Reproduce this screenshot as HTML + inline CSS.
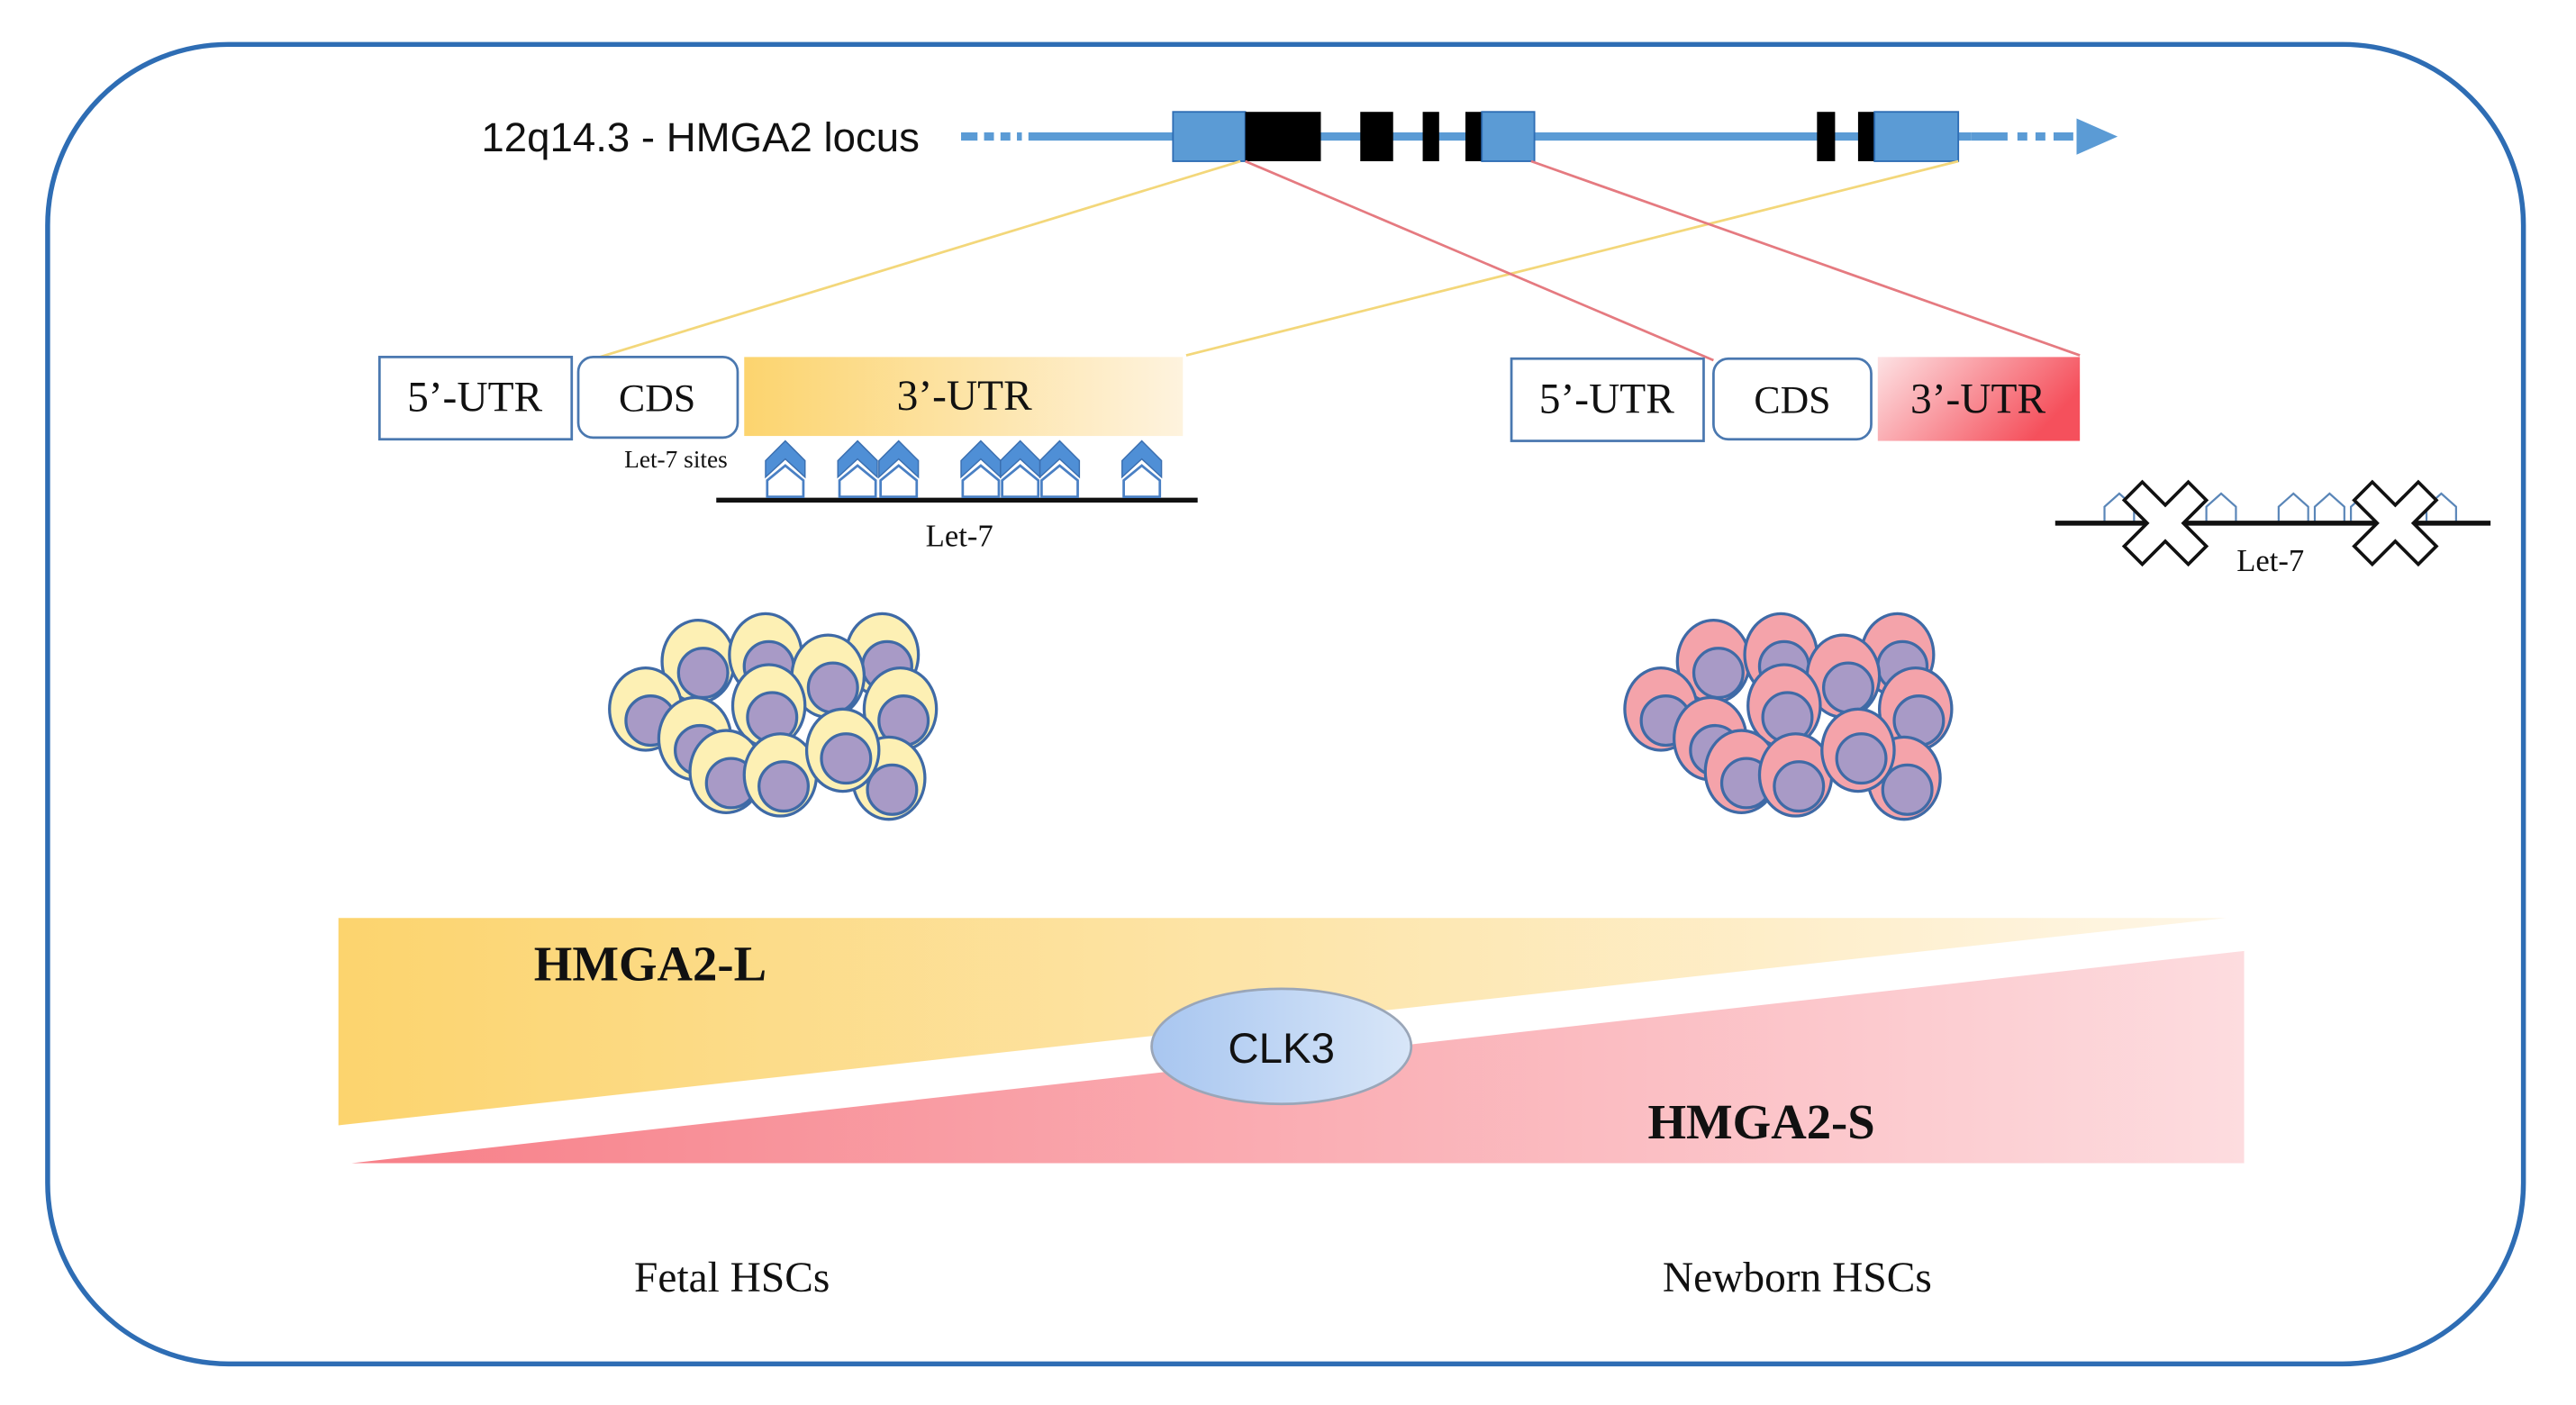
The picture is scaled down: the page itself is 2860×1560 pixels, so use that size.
<!DOCTYPE html>
<html><head><meta charset="utf-8"><style>html,body{margin:0;padding:0;background:#fff}svg{display:block}</style></head>
<body>
<svg width="2860" height="1560" viewBox="0 0 1568 854" preserveAspectRatio="none" xmlns="http://www.w3.org/2000/svg">
<defs>
<linearGradient id="gy" x1="0" x2="1" y1="0" y2="0"><stop offset="0" stop-color="#fcd46e"/><stop offset="1" stop-color="#fef3de"/></linearGradient>
<linearGradient id="gp" x1="0" x2="1" y1="0" y2="0.4"><stop offset="0" stop-color="#fde2e4"/><stop offset="1" stop-color="#f5505c"/></linearGradient>
<linearGradient id="tY" x1="0" x2="1" y1="0" y2="0"><stop offset="0" stop-color="#fcd46e"/><stop offset="1" stop-color="#fef6e6"/></linearGradient>
<linearGradient id="tR" x1="0" x2="1" y1="0" y2="0"><stop offset="0" stop-color="#f77f88"/><stop offset="1" stop-color="#fddcdf"/></linearGradient>
<linearGradient id="cb" x1="0" x2="1" y1="0" y2="0"><stop offset="0" stop-color="#a8c6f0"/><stop offset="1" stop-color="#d8e6f8"/></linearGradient>
<g id="site"><polygon points="-12,280 0,268 12,280 12,290 0,279 -12,290" fill="#4f8fd6" stroke="#3b6fb0" stroke-width="0.8"/><polygon points="-11,302 -11,292 0,283 11,292 11,302" fill="#fff" stroke="#4a80c4" stroke-width="1.5"/></g>
<g id="hs"><polygon points="-9,318 -9,308 0,300 9,308 9,318" fill="#fff" stroke="#5a86b8" stroke-width="1.2"/></g>
<g id="xx"><polygon points="-14,-25 0,-11 14,-25 25,-14 11,0 25,14 14,25 0,11 -14,25 -25,14 -11,0 -25,-14" fill="#fff" stroke="#111" stroke-width="2"/></g>
</defs>
<rect x="29" y="27" width="1507" height="802" rx="110" ry="110" fill="#fff" stroke="#2e6db4" stroke-width="3"/>
<text x="293" y="92" font-family="Liberation Sans, sans-serif" font-size="25" fill="#111">12q14.3 - HMGA2 locus</text>
<line x1="585" y1="83" x2="622" y2="83" stroke="#5b9bd5" stroke-width="5" stroke-dasharray="10,4,6,4,6,4"/>
<line x1="626" y1="83" x2="1200" y2="83" stroke="#5b9bd5" stroke-width="5"/>
<line x1="1200" y1="83" x2="1262" y2="83" stroke="#5b9bd5" stroke-width="5" stroke-dasharray="22,6,6,5,6,5"/>
<polygon points="1264,72 1289,83 1264,94" fill="#5b9bd5"/>
<rect x="714" y="68" width="44" height="30" fill="#5b9bd5" stroke="#2e6db4" stroke-width="1"/>
<rect x="758" y="68" width="46" height="30" fill="#000"/>
<rect x="828" y="68" width="20" height="30" fill="#000"/>
<rect x="866" y="68" width="10" height="30" fill="#000"/>
<rect x="892" y="68" width="10" height="30" fill="#000"/>
<rect x="902" y="68" width="32" height="30" fill="#5b9bd5" stroke="#2e6db4" stroke-width="1"/>
<rect x="1106" y="68" width="11" height="30" fill="#000"/>
<rect x="1131" y="68" width="10" height="30" fill="#000"/>
<rect x="1141" y="68" width="51" height="30" fill="#5b9bd5" stroke="#2e6db4" stroke-width="1"/>
<line x1="755" y1="98" x2="365" y2="217" stroke="#f3d77a" stroke-width="1.5"/>
<line x1="1192" y1="98" x2="722" y2="216" stroke="#f3d77a" stroke-width="1.5"/>
<line x1="758" y1="98" x2="1043" y2="219" stroke="#e57a80" stroke-width="1.5"/>
<line x1="932" y1="98" x2="1266" y2="216" stroke="#e57a80" stroke-width="1.5"/>
<g font-family="Liberation Serif, serif" fill="#111">
<rect x="231" y="217" width="117" height="50" fill="#fff" stroke="#4a78b0" stroke-width="1.5"/>
<text x="289" y="250" font-size="26" text-anchor="middle">5’-UTR</text>
<rect x="352" y="217" width="97" height="49" rx="9" fill="#fff" stroke="#4a78b0" stroke-width="1.5"/>
<text x="400" y="250" font-size="24" text-anchor="middle">CDS</text>
<rect x="453" y="217" width="267" height="48" fill="url(#gy)"/>
<text x="587" y="249" font-size="26" text-anchor="middle">3’-UTR</text>
<text x="380" y="284" font-size="15">Let-7 sites</text>
<line x1="436" y1="304" x2="729" y2="304" stroke="#111" stroke-width="3"/>
<text x="584" y="332" font-size="19" text-anchor="middle">Let-7</text>
<rect x="920" y="218" width="117" height="50" fill="#fff" stroke="#4a78b0" stroke-width="1.5"/>
<text x="978" y="251" font-size="26" text-anchor="middle">5’-UTR</text>
<rect x="1043" y="218" width="96" height="49" rx="9" fill="#fff" stroke="#4a78b0" stroke-width="1.5"/>
<text x="1091" y="251" font-size="24" text-anchor="middle">CDS</text>
<rect x="1143" y="217" width="123" height="51" fill="url(#gp)"/>
<text x="1204" y="251" font-size="26" text-anchor="middle">3’-UTR</text>
<text x="1382" y="347" font-size="19" text-anchor="middle">Let-7</text>
<text x="386" y="785" font-size="26">Fetal HSCs</text>
<text x="1012" y="785" font-size="26">Newborn HSCs</text>
</g>
<use href="#site" x="478"/><use href="#site" x="522"/><use href="#site" x="547"/><use href="#site" x="597"/><use href="#site" x="621"/><use href="#site" x="645"/><use href="#site" x="695"/>
<use href="#hs" x="1290"/><use href="#hs" x="1352"/><use href="#hs" x="1396"/><use href="#hs" x="1418"/><use href="#hs" x="1440"/><use href="#hs" x="1486"/>
<line x1="1251" y1="318" x2="1516" y2="318" stroke="#111" stroke-width="3"/>
<use href="#xx" x="1318" y="318"/><use href="#xx" x="1458" y="318"/>
<g id="cl" stroke="#3f6aa6" stroke-width="1.8">
<g fill="#fdf0b4">
<ellipse cx="425" cy="402" rx="22" ry="25"/><circle cx="428" cy="409" r="15" fill="#a89ac6"/>
<ellipse cx="466" cy="398" rx="22" ry="25"/><circle cx="468" cy="405" r="15" fill="#a89ac6"/>
<ellipse cx="537" cy="398" rx="22" ry="25"/><circle cx="540" cy="405" r="15" fill="#a89ac6"/>
<ellipse cx="504" cy="411" rx="22" ry="25"/><circle cx="507" cy="418" r="15" fill="#a89ac6"/>
<ellipse cx="393" cy="431" rx="22" ry="25"/><circle cx="396" cy="438" r="15" fill="#a89ac6"/>
<ellipse cx="468" cy="429" rx="22" ry="25"/><circle cx="470" cy="436" r="15" fill="#a89ac6"/>
<ellipse cx="548" cy="431" rx="22" ry="25"/><circle cx="550" cy="438" r="15" fill="#a89ac6"/>
<ellipse cx="423" cy="449" rx="22" ry="25"/><circle cx="426" cy="456" r="15" fill="#a89ac6"/>
<ellipse cx="442" cy="469" rx="22" ry="25"/><circle cx="445" cy="476" r="15" fill="#a89ac6"/>
<ellipse cx="541" cy="473" rx="22" ry="25"/><circle cx="543" cy="480" r="15" fill="#a89ac6"/>
<ellipse cx="475" cy="471" rx="22" ry="25"/><circle cx="477" cy="478" r="15" fill="#a89ac6"/>
<ellipse cx="513" cy="456" rx="22" ry="25"/><circle cx="515" cy="461" r="15" fill="#a89ac6"/>
</g></g>
<g transform="translate(618,0)" stroke="#3f6aa6" stroke-width="1.8">
<g fill="#f4a3aa">
<ellipse cx="425" cy="402" rx="22" ry="25"/><circle cx="428" cy="409" r="15" fill="#a89ac6"/>
<ellipse cx="466" cy="398" rx="22" ry="25"/><circle cx="468" cy="405" r="15" fill="#a89ac6"/>
<ellipse cx="537" cy="398" rx="22" ry="25"/><circle cx="540" cy="405" r="15" fill="#a89ac6"/>
<ellipse cx="504" cy="411" rx="22" ry="25"/><circle cx="507" cy="418" r="15" fill="#a89ac6"/>
<ellipse cx="393" cy="431" rx="22" ry="25"/><circle cx="396" cy="438" r="15" fill="#a89ac6"/>
<ellipse cx="468" cy="429" rx="22" ry="25"/><circle cx="470" cy="436" r="15" fill="#a89ac6"/>
<ellipse cx="548" cy="431" rx="22" ry="25"/><circle cx="550" cy="438" r="15" fill="#a89ac6"/>
<ellipse cx="423" cy="449" rx="22" ry="25"/><circle cx="426" cy="456" r="15" fill="#a89ac6"/>
<ellipse cx="442" cy="469" rx="22" ry="25"/><circle cx="445" cy="476" r="15" fill="#a89ac6"/>
<ellipse cx="541" cy="473" rx="22" ry="25"/><circle cx="543" cy="480" r="15" fill="#a89ac6"/>
<ellipse cx="475" cy="471" rx="22" ry="25"/><circle cx="477" cy="478" r="15" fill="#a89ac6"/>
<ellipse cx="513" cy="456" rx="22" ry="25"/><circle cx="515" cy="461" r="15" fill="#a89ac6"/>
</g></g>
<polygon points="206,558 1355,558 206,684" fill="url(#tY)"/>
<polygon points="214,707 1366,578 1366,707" fill="url(#tR)"/>
<text x="325" y="596" font-family="Liberation Serif, serif" font-size="30" font-weight="bold" fill="#111">HMGA2-L</text>
<text x="1003" y="692" font-family="Liberation Serif, serif" font-size="30" font-weight="bold" fill="#111">HMGA2-S</text>
<ellipse cx="780" cy="636" rx="79" ry="35" fill="url(#cb)" stroke="#9aa6b8" stroke-width="1.5"/>
<text x="780" y="646" font-family="Liberation Sans, sans-serif" font-size="26" text-anchor="middle" fill="#111">CLK3</text>
</svg>
</body></html>
